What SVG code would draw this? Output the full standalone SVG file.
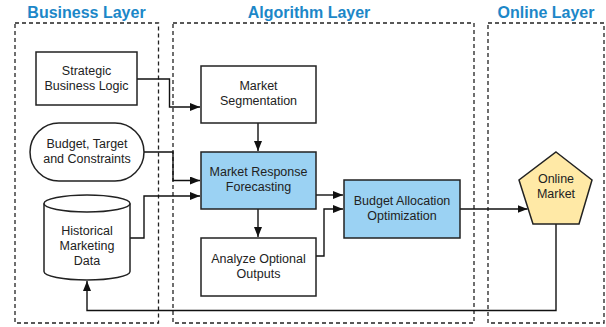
<svg xmlns="http://www.w3.org/2000/svg" width="606" height="327" viewBox="0 0 606 327">
<defs>
<style>
.title{font-family:"Liberation Sans",Arial,sans-serif;font-weight:bold;font-size:16px;fill:#1C87C8;text-anchor:middle}
.layer{fill:none;stroke:#222;stroke-width:1.3;stroke-dasharray:4 3}
.node{stroke:#222;stroke-width:1.5}
.lbl{font-family:"Liberation Sans",Arial,sans-serif;font-size:12.5px;fill:#222;text-anchor:middle}
.edge{fill:none;stroke:#111;stroke-width:1.4}
</style>
<marker id="ah" markerWidth="10" markerHeight="8" refX="10" refY="4" orient="auto" markerUnits="userSpaceOnUse">
<path d="M0,0 L10,4 L0,8 Z" fill="#111"/>
</marker>
</defs>
<rect width="606" height="327" fill="#fff"/>
<g id="layers">
<rect class="layer" x="15" y="23" width="143.5" height="300"/>
<rect class="layer" x="173" y="23" width="301" height="300"/>
<rect class="layer" x="488" y="23" width="116" height="300"/>
<text class="title" x="86.5" y="18">Business Layer</text>
<text class="title" x="309" y="18">Algorithm Layer</text>
<text class="title" x="546" y="18">Online Layer</text>
</g>
<g id="connectors">
<path class="edge" d="M137,79 H169.5 V107 H200" marker-end="url(#ah)"/>
<path class="edge" d="M144,152 H173 V180.5 H200" marker-end="url(#ah)"/>
<path class="edge" d="M130,238 H144 V196 H200" marker-end="url(#ah)"/>
<path class="edge" d="M258,123 V151" marker-end="url(#ah)"/>
<path class="edge" d="M258,209 V237" marker-end="url(#ah)"/>
<path class="edge" d="M316,195 H343" marker-end="url(#ah)"/>
<path class="edge" d="M316,256 H324 V209 H343" marker-end="url(#ah)"/>
<path class="edge" d="M460,209 H527.5" marker-end="url(#ah)"/>
<path class="edge" d="M556,224 V310.5 H87 V281" marker-end="url(#ah)"/>
</g>
<g id="strategic">
<rect class="node" x="36" y="52" width="101" height="53" fill="#fff"/>
<text class="lbl" x="86.5" y="75">Strategic</text>
<text class="lbl" x="86.5" y="90">Business Logic</text>
</g>
<g id="budget">
<rect class="node" x="30" y="123" width="114" height="58" rx="29" ry="29" fill="#fff"/>
<text class="lbl" x="87" y="147.5">Budget, Target</text>
<text class="lbl" x="87" y="162.5">and Constraints</text>
</g>
<g id="historical">
<path class="node" d="M44,203.5 V271.5 A43,8.5 0 0 0 130,271.5 V203.5 A43,8.5 0 0 0 44,203.5 Z" fill="#fff"/>
<path class="node" d="M44,203.5 A43,8.5 0 0 0 130,203.5" fill="none"/>
<text class="lbl" x="87" y="234.5">Historical</text>
<text class="lbl" x="87" y="249.5">Marketing</text>
<text class="lbl" x="87" y="264.5">Data</text>
</g>
<g id="segmentation">
<rect class="node" x="201" y="66" width="115" height="57" fill="#fff"/>
<text class="lbl" x="258.5" y="90">Market</text>
<text class="lbl" x="258.5" y="105">Segmentation</text>
</g>
<g id="forecasting">
<rect class="node" x="201" y="152" width="115" height="57" fill="#9BD2F3"/>
<text class="lbl" x="258.5" y="176">Market Response</text>
<text class="lbl" x="258.5" y="191">Forecasting</text>
</g>
<g id="analyze">
<rect class="node" x="201" y="238" width="115" height="58" fill="#fff"/>
<text class="lbl" x="258.5" y="262.5">Analyze Optional</text>
<text class="lbl" x="258.5" y="277.5">Outputs</text>
</g>
<g id="allocation">
<rect class="node" x="344" y="180" width="116" height="58" fill="#9BD2F3"/>
<text class="lbl" x="402" y="204.5">Budget Allocation</text>
<text class="lbl" x="402" y="219.5">Optimization</text>
</g>
<g id="online">
<polygon class="node" points="556,152 592,180 579,224 533,224 519,180" fill="#FFE9A6"/>
<text class="lbl" x="556" y="183">Online</text>
<text class="lbl" x="556" y="198">Market</text>
</g>
</svg>
